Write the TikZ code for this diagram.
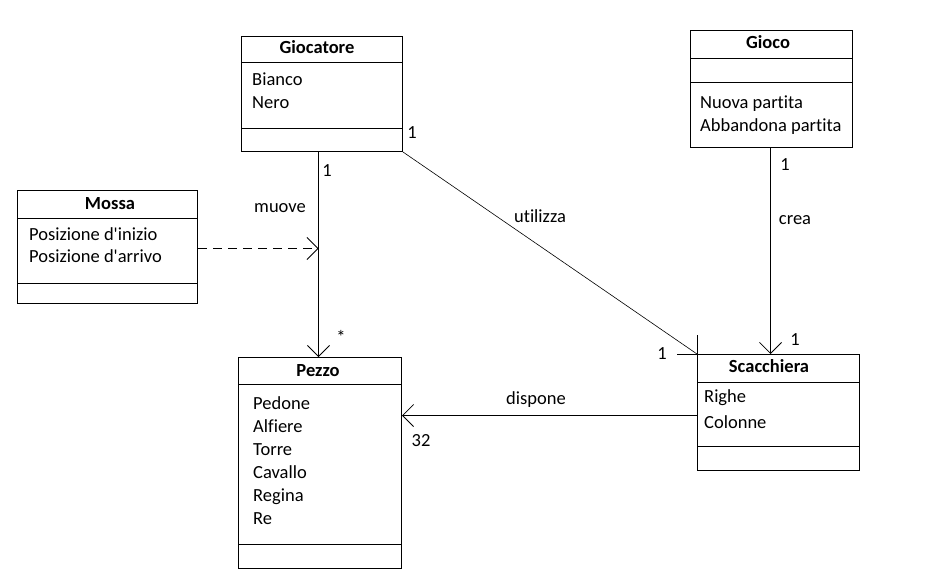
\documentclass[tikz,border=0pt]{standalone}
\usepackage{fontspec}
\setmainfont{Carlito}[Ligatures={TeXOff,NoCommon}]
\usetikzlibrary{arrows.meta,calc}
\begin{document}
\begin{tikzpicture}[x=1pt,y=-1pt,
  box/.style={draw,line width=1pt,rectangle,anchor=north west,inner sep=0pt},
  sep/.style={line width=1pt},
  ttl/.style={anchor=base,font=\fontsize{18.5}{22}\selectfont\bfseries,inner sep=0pt},
  attr/.style={anchor=base west,font=\fontsize{18.5}{22}\selectfont,inner sep=0pt},
  lbl/.style={font=\fontsize{18.5}{22}\selectfont,inner sep=0pt},
  conn/.style={line width=0.9pt},
  openarr/.style={-{Straight Barb[length=11pt,width=22pt,line width=0.8pt]}}
]
\useasboundingbox (0,0) rectangle (939,581);
\fill[white] (0,0) rectangle (939,581);

% Giocatore
\node[box,minimum width=161pt,minimum height=115pt] (gioc) at (241,36) {};
\draw[sep] (241,62) -- (402,62);
\draw[sep] (241,128) -- (402,128);
\node[ttl] (giocT) at (317,53) {Giocatore};
\node[attr] (giocA1) at (252,85) {Bianco};
\node[attr] (giocA2) at (252,108) {Nero};

% Gioco
\node[box,minimum width=162pt,minimum height=117pt] (gioco) at (690,30) {};
\draw[sep] (690,58) -- (852,58);
\draw[sep] (690,82) -- (852,82);
\node[ttl] (giocoT) at (768,48) {Gioco};
\node[attr] (giocoA1) at (700,108) {Nuova partita};
\node[attr] (giocoA2) at (700,131) {Abbandona partita};

% Mossa
\node[box,minimum width=180pt,minimum height=113pt] (mossa) at (17,190) {};
\draw[sep] (17,218) -- (197,218);
\draw[sep] (17,283) -- (197,283);
\node[ttl] (mossaT) at (110,209) {Mossa};
\node[attr] (mossaA1) at (29,240) {Posizione d'inizio};
\node[attr] (mossaA2) at (29,262) {Posizione d'arrivo};

% Pezzo
\node[box,minimum width=163pt,minimum height=211pt] (pezzo) at (238,357) {};
\draw[sep] (238,384) -- (401,384);
\draw[sep] (238,544) -- (401,544);
\node[ttl] (pezzoT) at (318,376) {Pezzo};
\node[attr] (p1) at (253,409) {Pedone};
\node[attr] (p2) at (253,432) {Alfiere};
\node[attr] (p3) at (253,455) {Torre};
\node[attr] (p4) at (253,478) {Cavallo};
\node[attr] (p5) at (253,501) {Regina};
\node[attr] (p6) at (253,524) {Re};

% Scacchiera
\node[box,minimum width=162pt,minimum height=116pt] (scac) at (697,354) {};
\draw[sep] (697,382) -- (859,382);
\draw[sep] (697,446) -- (859,446);
\node[ttl] (scacT) at (769,372) {Scacchiera};
\node[attr] (s1) at (704,402) {Righe};
\node[attr] (s2) at (704,428) {Colonne};

% connectors
\coordinate (gb) at ($(gioc.south)+(-3.5,0)$);
\draw[conn,openarr] (gb) -- (gb |- pezzo.north);
\coordinate (mv) at ($(mossa.east)+(0,1.5)$);
\draw[conn,dashed,dash pattern=on 9pt off 6pt,openarr] (mv) -- (mv -| gb);
\draw[line width=0.6pt] (gioc.south east) -- (scac.north west);
\draw[conn] (scac.north west) -- ++(0,-19);
\draw[conn] (scac.north west) -- ++(-20,0);
\coordinate (gc) at ($(gioco.south)+(-1,0)$);
\draw[conn,openarr] (gc) -- (gc |- scac.north);
\coordinate (sd) at ($(scac.west)+(0,3)$);
\draw[conn,openarr] (sd) -- (sd -| pezzo.east);

% labels
\node[lbl] (l1) at (327,171) {1};
\node[lbl] (l2) at (280,208) {muove};
\node[lbl] (l3) at (341,337) {*};
\node[lbl] (l4) at (412,133) {1};
\node[lbl] (l5) at (540,216) {utilizza};
\node[lbl] (l6) at (662,354) {1};
\node[lbl] (l7) at (785,165) {1};
\node[lbl] (l8) at (795,220) {crea};
\node[lbl] (l9) at (795,340) {1};
\node[lbl] (l10) at (536,400) {dispone};
\node[lbl] (l11) at (421,441) {32};
\end{tikzpicture}
\end{document}
